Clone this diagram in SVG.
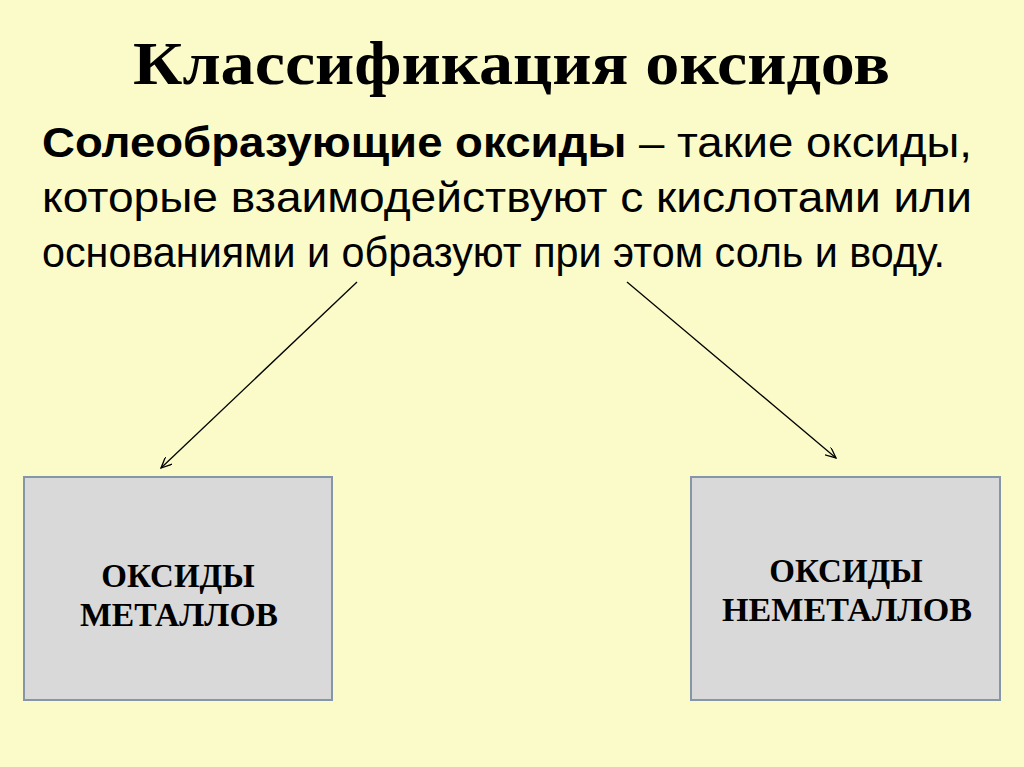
<svg xmlns="http://www.w3.org/2000/svg" width="1024" height="767" viewBox="0 0 1024 767">
<defs>
<style>
.t{font-family:"Liberation Sans",Arial,sans-serif;font-size:42px;fill:#000}
.b{font-family:"Liberation Serif","Times New Roman",serif;font-weight:bold;fill:#000}
.box{fill:#d9d9d9;stroke:#8496a8;stroke-width:2}
.c{stroke:#000;stroke-width:1.3;fill:none;marker-end:url(#a)}
</style>
<marker id="a" markerWidth="12" markerHeight="10" refX="11" refY="5" orient="auto" markerUnits="userSpaceOnUse">
<path d="M0,0 L11,5 L0,10" fill="none" stroke="#000" stroke-width="1.3"/>
</marker>
</defs>
<rect width="1024" height="767" fill="#fbfbc9"/>
<text class="b" x="133" y="84" font-size="62" textLength="757" lengthAdjust="spacingAndGlyphs">Классификация оксидов</text>
<text class="t" x="42" y="157" textLength="930" lengthAdjust="spacingAndGlyphs"><tspan font-weight="bold">Солеобразующие оксиды</tspan> – такие оксиды,</text>
<text class="t" x="42" y="212" textLength="930" lengthAdjust="spacingAndGlyphs">которые взаимодействуют с кислотами или</text>
<text class="t" x="42" y="267" textLength="903" lengthAdjust="spacingAndGlyphs">основаниями и образуют при этом соль и воду.</text>
<g id="connectors">
<line class="c" x1="357" y1="282" x2="161" y2="468"/>
<line class="c" x1="627" y1="282" x2="836" y2="458"/>
</g>
<g id="metals">
<rect class="box" x="24" y="477" width="308" height="223"/>
<text class="b" x="178" y="587" font-size="33" text-anchor="middle">ОКСИДЫ</text>
<text class="b" x="179" y="626" font-size="33" text-anchor="middle" textLength="198" lengthAdjust="spacingAndGlyphs">МЕТАЛЛОВ</text>
</g>
<g id="nonmetals">
<rect class="box" x="691" y="477" width="309" height="223"/>
<text class="b" x="846" y="582" font-size="33" text-anchor="middle">ОКСИДЫ</text>
<text class="b" x="847" y="621" font-size="33" text-anchor="middle" textLength="250" lengthAdjust="spacingAndGlyphs">НЕМЕТАЛЛОВ</text>
</g>
</svg>
